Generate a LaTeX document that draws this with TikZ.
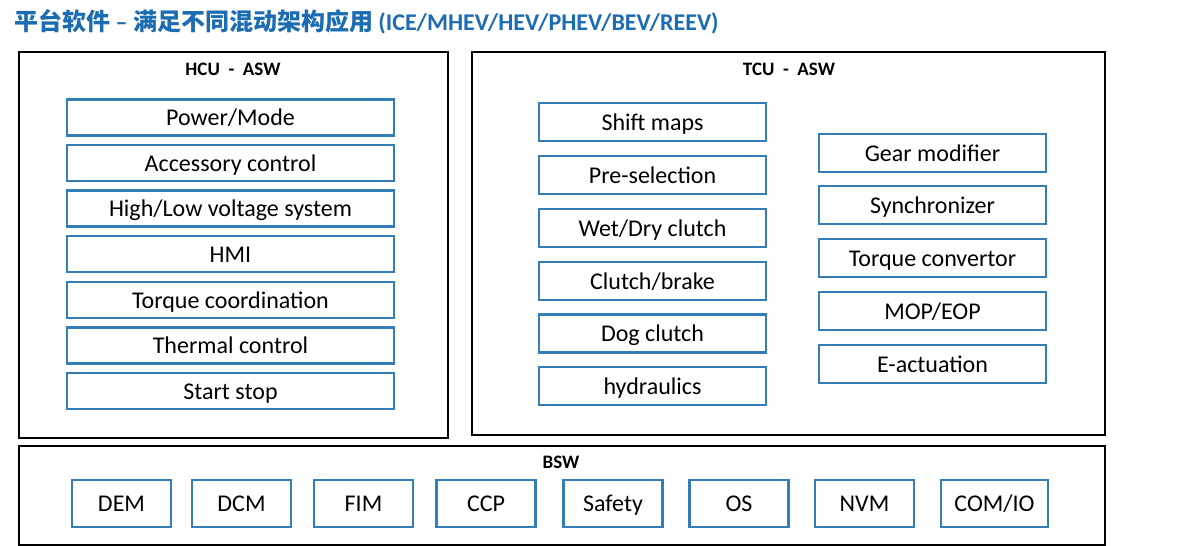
\documentclass[tikz,border=0pt]{standalone}
\usepackage{fontspec}
\setmainfont{Carlito}
\newfontfamily\cjk{Noto Sans CJK SC}
\definecolor{titleblue}{RGB}{28,108,180}
\definecolor{boxblue}{RGB}{52,125,182}
\tikzset{
  modbox/.style={draw=boxblue, line width=2.2pt, minimum height=36, minimum width=327, inner sep=0pt, text height=19, text depth=3, font=\fontsize{24}{28}\selectfont},
  tcubox/.style={modbox, minimum height=38, minimum width=227},
  bswbox/.style={modbox, minimum height=47, minimum width=99},
  head/.style={font=\fontsize{19}{22}\selectfont\bfseries}
}
\begin{document}
\begin{tikzpicture}[x=1pt, y=-1pt]
\useasboundingbox (0,0) rectangle (1187,546);

\node[anchor=west, inner sep=0pt, text=titleblue, font=\fontsize{24}{28}\selectfont\bfseries] (title) at (14,22)
  {{\cjk\bfseries 平台软件} – {\cjk\bfseries 满足不同混动架构应用} (ICE/MHEV/HEV/PHEV/BEV/REEV)};

% Rahmen
\draw[line width=1.3pt] ( 19,  52) rectangle ( 448, 438);
\draw[line width=1.3pt] (472,  52) rectangle (1105, 435);
\draw[line width=1.3pt] ( 19, 446) rectangle (1105, 545);

\node[head] (hcu) at (233, 69) {HCU \ - \ ASW};
\node[head] (tcu) at (789, 69) {TCU \ - \ ASW};
\node[head] (bsw) at (561, 462) {BSW};

% HCU
\node[modbox] (power)   at (230.5, 117.5) {Power/Mode};
\node[modbox] (access)  at (230.5, 163) {Accessory control};
\node[modbox] (voltage) at (230.5, 208.5) {High/Low voltage system};
\node[modbox] (hmi)     at (230.5, 254) {HMI};
\node[modbox] (torque)  at (230.5, 300) {Torque coordination};
\node[modbox] (thermal) at (230.5, 345.5) {Thermal control};
\node[modbox] (start)   at (230.5, 391) {Start stop};

% TCU (l)
\node[tcubox] (shift)   at (652.5, 122) {Shift maps};
\node[tcubox] (presel)  at (652.5, 175) {Pre-selection};
\node[tcubox] (wetdry)  at (652.5, 228) {Wet/Dry clutch};
\node[tcubox] (brake)   at (652.5, 281) {Clutch/brake};
\node[tcubox] (dog)     at (652.5, 333.5) {Dog clutch};
\node[tcubox] (hydr)    at (652.5, 386) {hydraulics};

% TCU (r)
\node[tcubox] (gear)    at (932.5, 153) {Gear modifier};
\node[tcubox] (sync)    at (932.5, 205) {Synchronizer};
\node[tcubox] (conv)    at (932.5, 258) {Torque convertor};
\node[tcubox] (pump)    at (932.5, 311) {MOP/EOP};
\node[tcubox] (eact)    at (932.5, 364) {E-actuation};

% BSW
\node[bswbox] (dem)    at (121.5, 503.5) {DEM};
\node[bswbox] (dcm)    at (241.5, 503.5) {DCM};
\node[bswbox] (fim)    at (363.5, 503.5) {FIM};
\node[bswbox] (ccp)    at (486,   503.5) {CCP};
\node[bswbox] (safety) at (613,   503.5) {Safety};
\node[bswbox] (os)     at (739,   503.5) {OS};
\node[bswbox] (nvm)    at (864.5, 503.5) {NVM};
\node[bswbox, minimum width=107] (comio) at (994.5, 503.5) {COM/IO};

\end{tikzpicture}
\end{document}
